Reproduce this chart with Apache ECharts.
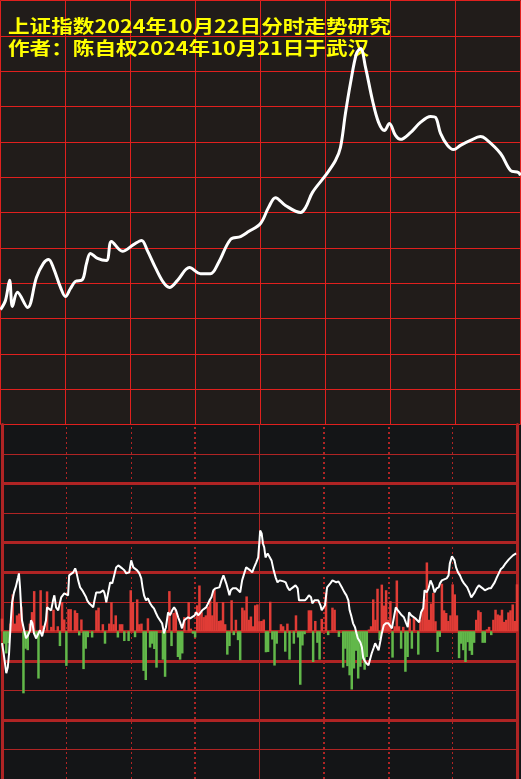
<!DOCTYPE html>
<html><head><meta charset="utf-8">
<script src="https://cdn.jsdelivr.net/npm/echarts/dist/echarts.min.js"></script>
<style>html,body{margin:0;padding:0;background:#141517;overflow:hidden}#c{width:521px;height:779px}</style>
</head><body><div id="c"></div>
<script>
const titleLine1 = '上证指数2024年10月22日分时走势研究';
const titleLine2 = '作者：陈自权2024年10月21日于武汉';

// top panel: intraday price path (minute from 9:30, relative level)
const priceMinutes = [0,2.3,4.2,5.5,7.8,12.5,16.6,19.8,22.2,24.5,27.7,30,32.3,34.6,37.8,39.7,41.5,44.8,48.9,51.2,56.3,61.4,65.1,67.8,71.5,75.2,78,81.7,87.2,92.3,96.9,100.6,106.2,110.8,114.5,120,123.7,126.9,131.5,138.5,140.8,144,150,154.6,156.9,159.2,161.5,164.3,166.2,168.5,171.7,174.5,177.2,179.5,182.3,184.6,189.2,193.8,198.5,200.8,203.1,206.3,209.1,212.3,216.9,221.5,223.8,230.8,235.4,239.1,240];
const priceValues = [32.5,35.1,40.8,33.4,37.4,33.1,41.6,45.6,46.7,44.2,38.8,36.2,38.5,40.5,41.0,45.6,48.4,47.0,46.4,51.8,49.0,50.9,52.1,49.2,44.4,40.2,38.8,40.8,44.4,42.7,42.7,45.8,52.4,53.2,54.6,56.9,61.4,64.2,62.0,60.0,61.4,65.7,70.5,74.7,78.4,88.0,96.5,105.0,106.4,101.0,91.7,85.5,83.2,85.2,81.8,80.7,82.6,85.5,87.2,86.9,82.4,79.0,77.8,79.0,80.4,81.5,80.9,76.7,71.9,71.3,70.5];

// bottom panel: oscillator line
const oscMinutes = [0,0.7,2.0,2.7,3.3,4.2,4.7,5.6,6.5,7.5,7.9,8.4,8.9,9.3,10.3,11.2,12.1,13.1,13.5,14.2,14.9,15.9,16.8,17.7,18.7,19.6,20.5,21.0,21.9,22.9,23.8,24.4,25.2,26.2,27.6,29.0,30.8,31.3,32.2,33.2,34.1,34.7,35.5,36.4,37.4,38.3,39.2,39.7,40.6,41.6,42.5,43.1,43.9,44.8,45.8,47.2,47.8,48.6,49.5,50.4,51.4,52.3,53.2,54.2,55.1,56.0,57.0,57.9,59.3,
60.2,61.2,62.1,63.0,64.0,64.9,65.5,66.2,67.1,68.0,69.0,69.9,70.8,71.8,72.7,73.6,74.6,75.5,76.4,77.4,78.3,79.3,80.2,81.1,82.1,83.0,83.9,84.9,85.8,86.7,87.7,88.6,89.8,90.5,91.4,92.3,93.3,94.2,95.1,96.1,96.7,97.6,98.5,99.5,100.4,101.3,102.3,103.2,103.8,104.5,105.4,106.0,106.6,107.6,108.5,109.1,110.1,111.0,111.9,112.9,113.8,114.7,115.7,116.6,117.5,118.5,119.4,120.0,120.3,
121.0,121.6,122.2,122.8,123.8,124.7,125.6,126.6,127.5,128.4,129.4,130.3,131.2,132.2,133.1,134.0,135.0,135.9,136.8,137.8,138.4,139.3,140.2,141.2,142.1,143.0,144.0,144.6,145.6,146.5,147.4,148.4,149.0,149.9,150.5,151.5,152.1,153.0,154.0,154.9,155.8,156.8,157.7,158.6,159.6,160.5,161.4,162.0,162.7,163.6,164.5,165.2,165.8,166.4,167.0,167.7,168.3,168.9,169.8,170.8,171.4,172.3,173.3,173.9,174.8,175.5,176.4,177.0,177.9,178.9,180.1,
180.7,181.7,182.6,183.5,184.5,185.4,186.3,187.3,188.2,189.1,189.7,190.7,191.6,192.6,193.5,194.4,195.3,196.3,196.9,197.9,198.8,199.7,200.7,201.6,202.5,203.5,204.1,205.0,205.9,207.2,208.1,208.7,209.7,210.3,210.9,211.6,212.5,213.4,214.4,215.3,216.2,216.8,217.8,218.7,219.3,220.3,221.2,222.2,223.1,224.0,225.0,225.9,226.8,227.8,228.7,229.6,230.6,231.5,232.4,233.4,234.3,235.2,236.2,237.1,238.1,239.0,239.6];
const oscValues = [-12,-21.3,-42.6,-36.5,-22.3,14.2,29.4,39.5,45.6,54.8,58.8,44.6,24.3,11.2,1.0,-7.1,-4.1,1.0,11.2,8.1,-2.0,-7.1,-6.1,1.0,-5.1,-7.1,11.2,24.3,23.3,21.3,31.4,36.5,24.3,21.3,34.5,38.5,36.5,56.8,58.8,59.8,63.9,59.8,51.7,44.6,41.6,41.6,34.5,31.4,28.4,26.4,24.3,31.4,39.5,40.6,39.5,41.6,38.5,29.4,29.4,49.7,48.7,49.7,64.9,66.9,65.9,63.9,61.9,58.8,59.8,
72.0,64.9,63.9,61.9,58.8,53.7,44.6,36.5,31.4,33.5,28.4,25.4,23.3,18.3,14.2,16.2,8.1,-2.0,4.1,19.3,16.2,21.3,24.3,21.3,14.2,9.1,3.0,11.2,13.2,14.2,13.2,13.2,16.2,19.3,16.2,18.3,21.3,23.3,24.3,28.4,31.4,34.5,41.6,43.6,41.6,44.6,51.7,56.8,54.8,48.7,41.6,36.5,41.6,43.6,41.6,43.6,41.6,39.5,51.7,58.8,64.9,63.9,61.9,59.8,64.9,70.0,75.0,92.3,102.4,
99.4,89.2,85.2,75.0,79.1,77.1,72.0,61.9,54.8,49.7,51.7,53.7,50.7,49.7,44.6,41.6,43.6,43.6,46.6,43.6,31.4,29.4,31.4,31.4,33.5,36.5,34.5,28.4,31.4,29.4,31.4,26.4,21.3,23.3,26.4,44.6,46.6,48.7,51.7,53.7,49.7,50.7,48.7,43.6,39.5,36.5,31.4,21.3,16.2,8.1,4.1,-2.0,-7.1,-9.1,-11.2,-16.2,-26.4,-29.4,-32.4,-34.5,-29.4,-22.3,-16.2,-12.2,-14.2,-19.3,-9.1,-2.0,6.1,8.1,8.1,
9.1,3.0,4.1,24.3,21.3,19.3,16.2,14.2,9.1,4.1,19.3,16.2,14.2,13.2,11.2,9.1,19.3,23.3,41.6,39.5,43.6,51.7,46.6,39.5,43.6,44.6,48.7,51.7,53.7,53.7,56.8,69.0,76.1,77.1,72.0,64.9,59.8,56.8,51.7,48.7,49.7,44.6,39.5,34.5,36.5,39.5,43.6,46.6,44.6,43.6,41.6,41.6,43.6,43.6,41.6,49.7,54.8,58.8,62.9,64.9,67.9,69.0,73.0,75.0,77.1,78.1,79.1];

// bottom panel: per-minute bars (index = minute 0..240)
const barValues = [12.9,-12.6,-22.5,-12,7.8,37.5,7.8,16.2,18,25.2,-63,-17.7,-19.2,7.8,19.5,40.8,-7.5,-48,41.7,5.7,
0,40.5,0,4.5,21.9,0,5.1,-15,29.7,12,-35.1,22.5,22.5,0,21.3,18.6,-4.2,12,-38.4,-17.7,
-6,0,-6.3,0,21.3,24,0,7.2,-12.6,0,7.8,29.7,7.2,16.2,-6.3,7.2,7.2,-9.9,0,-9.9,
41.7,29.7,-6,32.4,7.2,7.8,-40.2,-49.5,13.2,-16.5,-12.6,-18,-36.9,0,0,-28.8,-46.2,0,40.8,-15,
18.6,21.9,-26.1,-28.8,-22.5,14.4,0,29.7,2.7,-2.4,-6.3,26.4,46.5,19.5,14.4,16.2,25.2,31.5,16.2,42,
29.7,10.5,11.1,29.7,7.2,-23.7,-15,31.5,-3.9,11.7,-9,-29.4,24,21.3,35.4,11.7,15,5.1,26.4,27.3,
10.2,10.5,12,-21.3,-21,30,-8.4,-34.8,-12.6,0,7.2,5.1,-20.7,7.8,-28.8,0,-12.6,16.2,-6.3,-54.3,
-14.4,-3,0,21.3,21.3,-31.2,10.5,-11.7,-28.8,12.6,0,39,-3.9,0,24,21.9,0,-5.7,0,-36.9,
-17.7,-35.4,-44.7,-59.1,-37.8,-19.8,-48,-36,-28.8,-39,-26.1,1.8,5.1,32.4,11.7,43.2,-9,47.4,26.1,41.7,
11.7,30.6,-26.7,5.1,51.6,5.1,-17.7,4.5,-41.1,-26.1,12.9,-17.7,14.4,0,-23.7,11.7,21.9,32.4,69.9,11.7,
28.2,39,10.2,-21,-5.7,48.3,21.3,18.6,10.5,16.2,47.7,37.5,16.2,-27.3,-12.6,-19.2,-31.2,-11.1,-19.8,-24,
-11.7,11.7,21.3,19.5,-11.7,-11.7,2,4.5,-3.9,11.7,21.9,17.1,16.2,21.9,9.6,11.7,19.2,21.3,27.3,10.5,47.7];
const barMinutes = barValues.map((v, i) => String(i));

// bottom panel reference lines
const hLinesThick = [150, 90, 60, 0, -30, -90];
const hLinesThin = [180, 120, 30, -60, -120];
const vDotThin = [30, 60, 210];
const vDotThick = [90, 150, 180];
const vSolid = [120];

const RED_GRID = '#e0201e';
const DARK_RED = '#b02424';

const chart = echarts.init(document.getElementById('c'), null, {renderer: 'canvas'});

const markLineData = [];
hLinesThick.forEach(v => markLineData.push({yAxis: v, lineStyle: {color: DARK_RED, width: 3, type: 'solid'}}));
hLinesThin.forEach(v => markLineData.push({yAxis: v, lineStyle: {color: DARK_RED, width: 1, type: 'solid'}}));
vDotThin.forEach(v => markLineData.push({xAxis: v, lineStyle: {color: DARK_RED, width: 1, type: [2, 3]}}));
vDotThick.forEach(v => markLineData.push({xAxis: v, lineStyle: {color: DARK_RED, width: 2, type: [2, 3]}}));
vSolid.forEach(v => markLineData.push({xAxis: v, lineStyle: {color: DARK_RED, width: 1, type: 'solid'}}));

const hidden = {show: false};
const option = {
  backgroundColor: '#141517',
  animation: false,
  grid: [
    {left: 0.5, top: 0.5, width: 520, height: 424, show: true, backgroundColor: '#211c1a', borderWidth: 0},
    {left: 2, top: 424.5, width: 515, height: 355, show: true, backgroundColor: '#141517', borderWidth: 0}
  ],
  xAxis: [
    {gridIndex: 0, type: 'value', min: 0, max: 240, interval: 30, axisLine: hidden, axisTick: hidden, axisLabel: hidden,
     splitLine: {show: true, lineStyle: {color: RED_GRID, width: 1}}},
    {gridIndex: 1, type: 'value', min: 0, max: 240, interval: 30, axisLine: hidden, axisTick: hidden, axisLabel: hidden, splitLine: hidden},
    {gridIndex: 1, type: 'category', data: barMinutes, boundaryGap: false, axisLine: hidden, axisTick: hidden, axisLabel: hidden, splitLine: hidden}
  ],
  yAxis: [
    {gridIndex: 0, type: 'value', min: 0, max: 120, interval: 10, axisLine: hidden, axisTick: hidden, axisLabel: hidden,
     splitLine: {show: true, lineStyle: {color: RED_GRID, width: 1}}},
    {gridIndex: 1, type: 'value', min: -150, max: 210, interval: 30, axisTick: hidden, axisLabel: hidden, splitLine: hidden,
     axisLine: {show: true, lineStyle: {color: DARK_RED, width: 3}}},
    {gridIndex: 1, type: 'value', position: 'right', min: -150, max: 210, interval: 30, axisTick: hidden, axisLabel: hidden, splitLine: hidden,
     axisLine: {show: true, lineStyle: {color: DARK_RED, width: 3}}}
  ],
  graphic: [
    {type: 'text', x: 8, y: 17, scaleX: 1.2, z: 1,
     style: {text: titleLine1, fill: '#ffff00', font: 'bold 18px "Noto Sans CJK SC"', verticalAlign: 'top'}},
    {type: 'text', x: 8, y: 39, scaleX: 1.2, z: 1,
     style: {text: titleLine2, fill: '#ffff00', font: 'bold 18px "Noto Sans CJK SC"', verticalAlign: 'top'}}
  ],
  series: [
    {type: 'line', xAxisIndex: 0, yAxisIndex: 0, smooth: 0.35, symbol: 'none', z: 5,
     lineStyle: {color: '#ffffff', width: 3},
     data: priceMinutes.map((m, i) => [m, priceValues[i]])},
    {type: 'bar', xAxisIndex: 2, yAxisIndex: 1, barWidth: 2.5, z: 3,
     data: barValues.map(v => ({value: v, itemStyle: {color: v >= 0 ? '#e03c36' : '#62b84a'}}))},
    {type: 'line', xAxisIndex: 1, yAxisIndex: 1, symbol: 'none', z: 4,
     lineStyle: {color: '#ffffff', width: 2},
     data: oscMinutes.map((m, i) => [m, oscValues[i]]),
     markLine: {silent: true, symbol: 'none', label: hidden, z: 1, data: markLineData}}
  ]
};
chart.setOption(option);
</script>
</body></html>
